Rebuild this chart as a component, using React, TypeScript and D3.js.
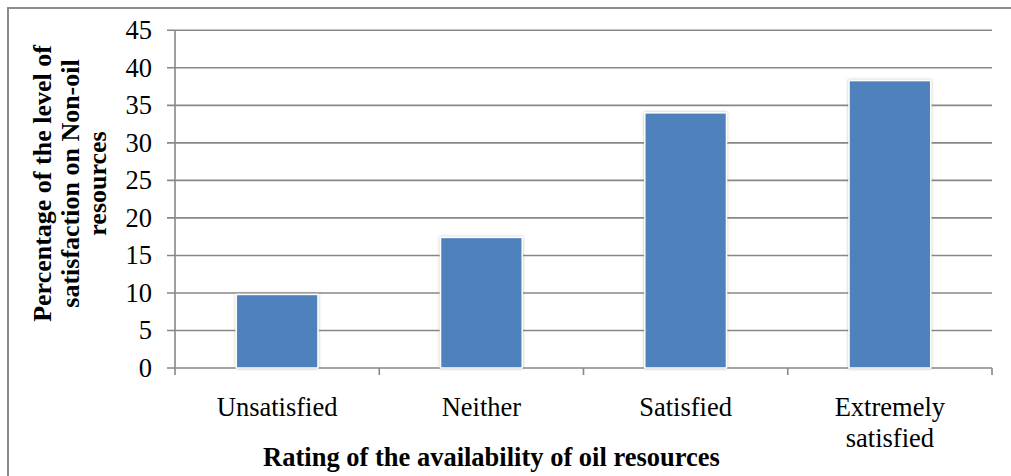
import React from "react";
import * as d3 from "d3";

const categories = ["Unsatisfied", "Neither", "Satisfied", "Extremely satisfied"];
const categoryLines = [["Unsatisfied"], ["Neither"], ["Satisfied"], ["Extremely", "satisfied"]];
const values = [9.8, 17.4, 34.0, 38.3];
const yTicks = [0, 5, 10, 15, 20, 25, 30, 35, 40, 45];
const yTitleLines = ["Percentage of the level of", "satisfaction on Non-oil", "resources"];
const xTitle = "Rating of the availability of oil resources";

const W = 1011;
const H = 476;
const plot = { left: 175, right: 992, top: 30.3, bottom: 368 };
const FONT = "'Liberation Serif', 'Times New Roman', serif";
const GRID = "#878787";
const BAR = "#4F81BD";

export default function App() {
  const x = d3
    .scaleBand<string>()
    .domain(categories)
    .range([plot.left, plot.right])
    .paddingInner(0.6)
    .paddingOuter(0.3);
  const y = d3.scaleLinear().domain([0, 45]).range([plot.bottom, plot.top]);
  const step = x.step();
  const catTicks = d3.range(categories.length + 1).map((i) => plot.left + i * step);

  return (
    <svg
      width={W}
      height={H}
      style={{ position: "absolute", left: 0, top: 0, background: "#fff" }}
      fontFamily={FONT}
    >
      <defs>
        <filter id="barShadow" x="-20%" y="-20%" width="140%" height="140%">
          <feDropShadow dx="0" dy="0" stdDeviation="1.6" floodColor="#808080" floodOpacity="0.55" />
        </filter>
      </defs>
      <rect x={0} y={0} width={W} height={H} fill="#fff" />
      {/* outer frame */}
      <rect x={8} y={8} width={W + 20} height={H + 20} fill="none" stroke="#8c8c8c" strokeWidth={2} />

      {/* horizontal gridlines and y ticks */}
      {yTicks.map((t) => (
        <g key={t}>
          <line x1={plot.left - 8} x2={plot.right} y1={y(t)} y2={y(t)} stroke={GRID} strokeWidth={1.6} />
          <text x={152} y={y(t)} dy="0.34em" textAnchor="end" fontSize={26.5} fill="#000">
            {t}
          </text>
        </g>
      ))}

      {/* y axis line */}
      <line x1={plot.left} x2={plot.left} y1={plot.top} y2={plot.bottom} stroke={GRID} strokeWidth={1.6} />
      {/* category ticks */}
      {catTicks.map((cx, i) => (
        <line key={i} x1={cx} x2={cx} y1={plot.bottom} y2={plot.bottom + 7} stroke={GRID} strokeWidth={1.6} />
      ))}

      {/* bars */}
      {categories.map((c, i) => (
        <rect
          key={c}
          x={x(c)}
          y={y(values[i])}
          width={x.bandwidth()}
          height={y(0) - y(values[i])}
          fill={BAR}
          stroke="#fff"
          strokeWidth={1.5}
          filter="url(#barShadow)"
        />
      ))}

      {/* category labels */}
      {categories.map((c, i) => (
        <text key={c} x={(x(c) as number) + x.bandwidth() / 2} y={416} textAnchor="middle" fontSize={26.5} fill="#000">
          {categoryLines[i].map((line, j) => (
            <tspan key={j} x={(x(c) as number) + x.bandwidth() / 2} dy={j === 0 ? 0 : 30.5}>
              {line}
            </tspan>
          ))}
        </text>
      ))}

      {/* x axis title */}
      <text x={491.5} y={466} textAnchor="middle" fontSize={26.5} fontWeight="bold" fill="#000">
        {xTitle}
      </text>

      {/* y axis title */}
      {yTitleLines.map((line, i) => (
        <text
          key={i}
          transform={`translate(${51 + i * 27.5},183.5) rotate(-90)`}
          textAnchor="middle"
          fontSize={26}
          fontWeight="bold"
          fill="#000"
        >
          {line}
        </text>
      ))}
    </svg>
  );
}
